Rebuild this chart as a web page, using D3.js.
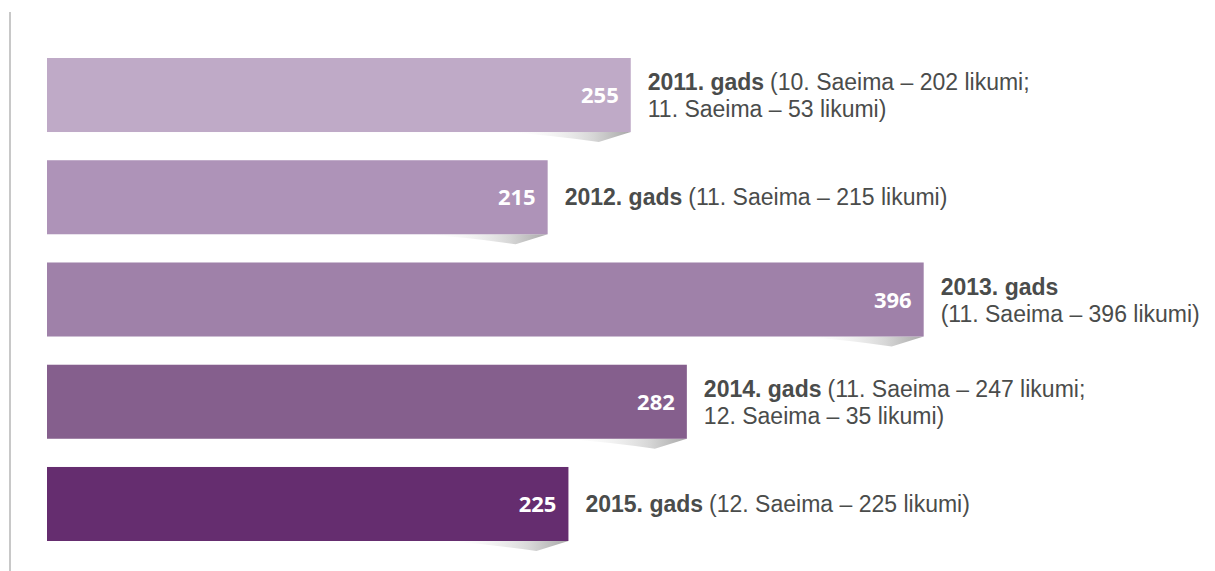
<!DOCTYPE html>
<html>
<head>
<meta charset="utf-8">
<script src="https://cdn.jsdelivr.net/npm/d3@7"></script>
<style>
  html, body { margin: 0; padding: 0; background: #fff; }
  svg { display: block; font-family: 'Open Sans', 'Noto Sans', sans-serif; }
  .note { font-family: 'Liberation Sans', Arial, sans-serif; }
</style>
</head>
<body>
<svg id="chart" width="1215" height="571"></svg>
<script>
const years = ['2011', '2012', '2013', '2014', '2015'];
const totals = [255, 215, 396, 282, 225];
const bold_labels = ['2011. gads', '2012. gads', '2013. gads', '2014. gads', '2015. gads'];
const first_line_rest = [
  '(10. Saeima – 202 likumi;',
  '(11. Saeima – 215 likumi)',
  '',
  '(11. Saeima – 247 likumi;',
  '(12. Saeima – 225 likumi)'
];
const second_line = [
  '11. Saeima – 53 likumi)',
  '',
  '(11. Saeima – 396 likumi)',
  '12. Saeima – 35 likumi)',
  ''
];
const bar_colors = ['#bfaac7', '#ae93b8', '#9f81a9', '#855f8d', '#652d6f'];

const rows = years.map((year, i) => ({
  year,
  value: totals[i],
  bold: bold_labels[i],
  rest: first_line_rest[i],
  line2: second_line[i],
  color: bar_colors[i]
}));

const svg = d3.select('#chart');
const bar_left = 47;
const text_color = '#4a4c4b';
const note_size = 23;

const x = d3.scaleLinear().domain([0, 400]).range([101, 932]);
const y = d3.scaleBand().domain(years).range([58, 541]).paddingInner(0.276);

// left rule
svg.append('line')
  .attr('x1', 10).attr('x2', 10)
  .attr('y1', 12).attr('y2', 571)
  .attr('stroke', '#c8c8c8')
  .attr('stroke-width', 2);

const defs = svg.append('defs');
const grad = defs.append('linearGradient')
  .attr('id', 'shadow-grad')
  .attr('x1', '0%').attr('x2', '100%')
  .attr('y1', '0%').attr('y2', '0%');
grad.append('stop').attr('offset', '0%').attr('stop-color', '#ffffff').attr('stop-opacity', 0);
grad.append('stop').attr('offset', '70%').attr('stop-color', '#d6d6d6');
grad.append('stop').attr('offset', '100%').attr('stop-color', '#a9a9a9');

const row = svg.selectAll('.row')
  .data(rows)
  .join('g')
  .attr('class', 'row');

// curled shadow under bar end
row.append('path')
  .attr('fill', 'url(#shadow-grad)')
  .attr('d', d => {
    const r = x(d.value);
    const b = y(d.year) + y.bandwidth();
    return `M${r},${b} L${r - 32},${b + 10} Q${r - 80},${b + 3} ${r - 125},${b} Z`;
  });

row.append('rect')
  .attr('x', bar_left)
  .attr('y', d => y(d.year))
  .attr('width', d => x(d.value) - bar_left)
  .attr('height', y.bandwidth())
  .attr('fill', d => d.color);

row.append('text')
  .attr('x', d => x(d.value) - 12)
  .attr('y', d => y(d.year) + y.bandwidth() / 2 + 8)
  .attr('text-anchor', 'end')
  .attr('fill', '#fff')
  .attr('font-weight', 700)
  .attr('font-size', 22)
  .text(d => d.value);

row.each(function (d) {
  const g = d3.select(this);
  const cx = x(d.value) + 17;
  const mid = y(d.year) + y.bandwidth() / 2;
  const two = d.line2 !== '';
  const base1 = two ? mid - 5 : mid + 8;

  const bold = g.append('text')
    .attr('class', 'note')
    .attr('x', cx)
    .attr('y', base1)
    .attr('fill', text_color)
    .attr('font-size', note_size)
    .attr('font-weight', 700)
    .text(d.bold);

  if (d.rest) {
    const w = bold.node().getComputedTextLength();
    g.append('text')
      .attr('class', 'note')
      .attr('x', cx + w + 6)
      .attr('y', base1)
      .attr('fill', text_color)
      .attr('font-size', note_size)
      .text(d.rest);
  }
  if (two) {
    g.append('text')
      .attr('class', 'note')
      .attr('x', cx)
      .attr('y', mid + 22)
      .attr('fill', text_color)
      .attr('font-size', note_size)
      .text(d.line2);
  }
});
</script>
</body>
</html>
